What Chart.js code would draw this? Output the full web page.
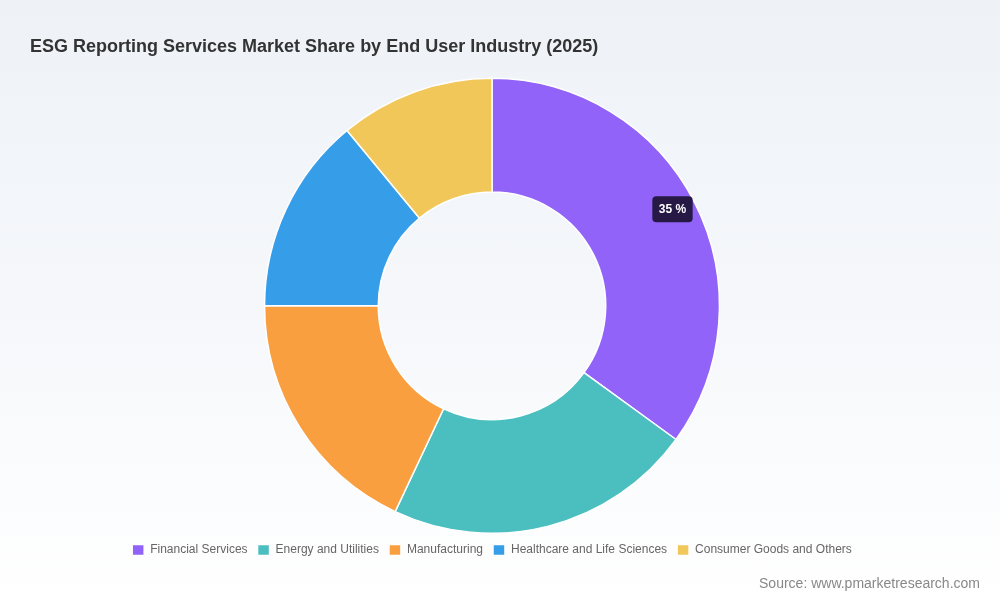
<!DOCTYPE html>
<html>
<head>
<meta charset="utf-8">
<script src="https://cdn.jsdelivr.net/npm/chart.js@4.4.1/dist/chart.umd.min.js"></script>
<style>
  html, body { margin: 0; padding: 0; width: 1000px; height: 600px; overflow: hidden; }
  body { background: linear-gradient(to bottom, #eef2f7 0%, #f6f8fb 55%, #ffffff 100%); font-family: "Liberation Sans", Arial, sans-serif; position: relative; }
  #wrap { position: absolute; left: 0; top: 0; width: 1000px; height: 600px; }
  #source { position: absolute; right: 20px; top: 574px; font-size: 14px; color: #888; line-height: 18px; }
</style>
</head>
<body>
<div id="wrap"><canvas id="c"></canvas></div>
<div id="source">Source: www.pmarketresearch.com</div>
<script>
const titleText = "ESG Reporting Services Market Share by End User Industry (2025)";
const categories = ["Financial Services", "Energy and Utilities", "Manufacturing", "Healthcare and Life Sciences", "Consumer Goods and Others"];
const shares = [35, 22, 18, 14, 11];
const sliceColors = ["#9263F8", "#4BBFBF", "#F99F40", "#369EE8", "#F2C75A"];
const highlightIndex = 0;

const labelPlugin = {
  id: 'sliceLabel',
  afterDatasetsDraw(chart) {
    const meta = chart.getDatasetMeta(0);
    const arc = meta.data[highlightIndex];
    if (!arc) return;
    const p = arc.getProps(['x', 'y', 'startAngle', 'endAngle', 'innerRadius', 'outerRadius'], true);
    const mid = (p.startAngle + p.endAngle) / 2 - 0.02;
    const r = p.outerRadius * 0.9;
    const cx = p.x + Math.cos(mid) * r;
    const cy = p.y + Math.sin(mid) * r;
    const ctx = chart.ctx;
    const text = shares[highlightIndex] + " %";
    ctx.save();
    ctx.font = "bold 12px 'Liberation Sans', Arial, sans-serif";
    const w = ctx.measureText(text).width + 13;
    const h = 26;
    ctx.fillStyle = "rgba(34,22,62,0.96)";
    ctx.beginPath();
    ctx.roundRect(cx - w / 2, cy - h / 2, w, h, 4);
    ctx.fill();
    ctx.fillStyle = "#ffffff";
    ctx.textAlign = "center";
    ctx.textBaseline = "middle";
    ctx.fillText(text, cx, cy + 0.5);
    ctx.restore();
  }
};

new Chart(document.getElementById('c'), {
  type: 'doughnut',
  data: {
    labels: categories,
    datasets: [{
      data: shares,
      backgroundColor: sliceColors,
      borderColor: '#ffffff',
      borderWidth: 1.5,
      hoverOffset: 0
    }]
  },
  options: {
    responsive: true,
    maintainAspectRatio: false,
    animation: false,
    cutout: '50%',
    layout: { padding: { left: 30, right: 46, top: 20, bottom: 34 } },
    plugins: {
      title: {
        display: true,
        text: titleText,
        align: 'start',
        color: '#333333',
        font: { family: "'Liberation Sans', Arial, sans-serif", size: 18, weight: 'bold' },
        padding: { top: 16, bottom: 20 }
      },
      legend: {
        position: 'bottom',
        labels: {
          boxWidth: 12,
          boxHeight: 11,
          padding: 10,
          color: '#666666',
          font: { family: "'Liberation Sans', Arial, sans-serif", size: 12 }
        }
      },
      tooltip: { enabled: false }
    }
  },
  plugins: [labelPlugin]
});
</script>
</body>
</html>
